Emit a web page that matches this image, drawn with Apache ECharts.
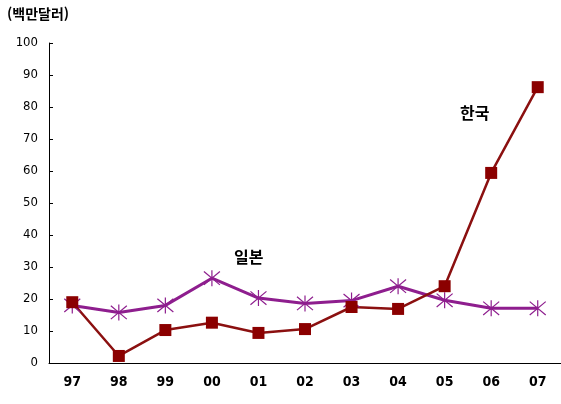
<!DOCTYPE html>
<html lang="ko">
<head>
  <meta charset="UTF-8">
  <title>한국 일본</title>
  <style>
    body { margin: 0; background: #fff; }
  </style>
</head>
<body>
  <div id="main" style="width:561px;height:404px;"></div>

  <script src="https://cdn.jsdelivr.net/npm/echarts@6/dist/echarts.min.js"></script>
  <script>
    var years = ['97', '98', '99', '00', '01', '02', '03', '04', '05', '06', '07']
    var korea = [19, 2.2, 10.3, 12.6, 9.4, 10.6, 17.5, 16.9, 24, 59.4, 86.2]
    var japan = [18, 15.8, 18, 26.5, 20.3, 18.6, 19.5, 24, 19.6, 17.1, 17.1]

    var myChart = echarts.init(document.getElementById('main'))

    // 별표 마커 (X + 세로선)
    var star = 'path://M0 0L10 10M10 0L0 10M5 -1L5 11'
    var labelFont = '"DejaVu Sans Condensed", "DejaVu Sans", sans-serif'

    var options = {
      animation: false,
      grid: { left: 49, top: 43, width: 520, height: 320 },
      xAxis: {
        type: 'category',
        data: years,
        boundaryGap: true,
        axisLine: { lineStyle: { color: '#000', width: 1 } },
        axisTick: { inside: true, length: 5, lineStyle: { color: '#000' } },
        axisLabel: {
          margin: 12,
          color: '#000',
          fontFamily: labelFont,
          fontWeight: 'bold',
          fontSize: 14
        }
      },
      yAxis: {
        type: 'value',
        min: 0,
        max: 100,
        interval: 10,
        splitLine: { show: false },
        axisLine: { show: true, lineStyle: { color: '#000', width: 1 } },
        axisTick: { show: true, inside: true, length: 4, lineStyle: { color: '#000' } },
        axisLabel: {
          margin: 11,
          color: '#000',
          fontFamily: labelFont,
          fontSize: 13
        }
      },
      graphic: [
        { type: 'text', left: 7, top: 7,
          style: { text: '(백만달러)', font: 'bold 14px "Noto Sans CJK KR"', fill: '#000' } },
        { type: 'text', left: 234, top: 249,
          style: { text: '일본', font: 'bold 16px "Noto Sans CJK KR"', fill: '#000' } },
        { type: 'text', left: 460, top: 105,
          style: { text: '한국', font: 'bold 16px "Noto Sans CJK KR"', fill: '#000' } }
      ],
      series: [
        {
          name: '일본',
          type: 'line',
          data: japan,
          symbol: star,
          symbolSize: 16,
          lineStyle: { color: '#8e1e8e', width: 3 },
          itemStyle: { color: '#8e1e8e', borderColor: '#8e1e8e', borderWidth: 1.2 }
        },
        {
          name: '한국',
          type: 'line',
          data: korea,
          symbol: 'rect',
          symbolSize: 12,
          lineStyle: { color: '#8b1010', width: 2.5 },
          itemStyle: { color: '#8b0000' }
        }
      ]
    }
    myChart.setOption(options)
  </script>
</body>
</html>
